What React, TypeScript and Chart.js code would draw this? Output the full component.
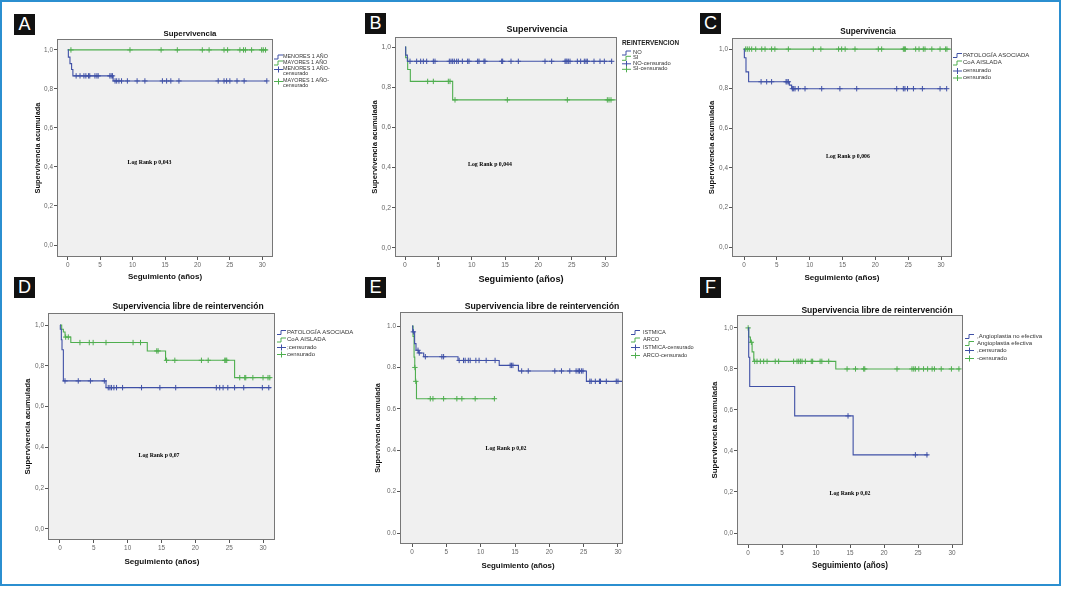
import React, { useEffect, useRef } from "react";
import { Chart, registerables } from "chart.js";
Chart.register(...registerables);

const BLUE = "#3f50a6";
const GREEN = "#4fae4f";
const SANS = '"Liberation Sans", Arial, sans-serif';
const SERIF = '"Liberation Serif", "Times New Roman", serif';

// shared axes
const xTicks = [0, 5, 10, 15, 20, 25, 30];
const xTickLabels = ["0", "5", "10", "15", "20", "25", "30"];
const yTicks = [0, 0.2, 0.4, 0.6, 0.8, 1.0];
const yTickLabelsComma = ["0,0", "0,2", "0,4", "0,6", "0,8", "1,0"];
const yTickLabelsDot = ["0.0", "0.2", "0.4", "0.6", "0.8", "1.0"];

// ---- Panel A: Supervivencia (edad) ----
const aMenoresT = [0, 0.1, 0.35, 0.6, 0.8, 7.0, 30.7];
const aMenoresS = [1, 0.963, 0.93, 0.9, 0.867, 0.841, 0.841];
const aMenoresCens = [1.3, 1.9, 2.5, 2.8, 3.2, 3.4, 4.2, 4.5, 4.7, 6.5, 6.7, 6.9, 7.3, 7.55, 7.9, 8.3, 9.2, 10.7, 11.9, 14.6, 15.25, 15.9, 17.15, 23.2, 24.1, 24.5, 25.0, 26.1, 27.2, 30.7];
const aMayoresT = [0, 30.8];
const aMayoresS = [1, 1];
const aMayoresCens = [0.5, 9.6, 14.4, 16.9, 20.75, 21.8, 24.1, 24.65, 26.55, 27.1, 27.4, 28.35, 29.9, 30.15, 30.5];

// ---- Panel B: Supervivencia (reintervención) ----
const bNoT = [0, 0.1, 0.35, 31.0];
const bNoS = [1, 0.96, 0.929, 0.929];
const bNoCens = [0.75, 1.75, 2.35, 2.75, 3.25, 4.25, 4.5, 6.65, 6.9, 7.15, 7.4, 7.75, 8.0, 8.6, 9.4, 9.6, 10.9, 11.1, 11.85, 12.0, 14.5, 14.65, 15.9, 17.0, 21.0, 22.0, 24.0, 24.15, 24.3, 24.5, 24.75, 25.85, 26.35, 26.9, 27.15, 27.35, 28.35, 29.25, 29.9, 31.0];
const bSiT = [0, 0.1, 0.4, 0.8, 7.15, 31.6];
const bSiS = [1, 0.947, 0.888, 0.829, 0.737, 0.737];
const bSiCens = [3.4, 4.25, 6.5, 6.75, 7.5, 15.35, 24.35, 30.35, 30.6, 30.9];

// ---- Panel C: Supervivencia (patología asociada) ----
const cPatT = [0, 0.05, 0.3, 0.7, 6.9, 7.25, 30.9];
const cPatS = [1, 0.956, 0.885, 0.835, 0.818, 0.8, 0.8];
const cPatCens = [2.6, 3.45, 4.2, 6.4, 6.55, 6.75, 7.36, 7.56, 7.77, 8.27, 9.29, 11.83, 14.6, 17.16, 23.25, 24.26, 24.5, 24.9, 25.8, 27.16, 29.85, 30.86];
const cAisT = [0, 31.5];
const cAisS = [1, 1];
const cAisCens = [0.25, 0.5, 0.8, 1.17, 1.78, 2.7, 3.2, 4.2, 4.7, 6.75, 10.55, 11.7, 14.4, 14.87, 15.4, 16.9, 20.45, 20.96, 24.26, 24.42, 24.57, 26.14, 26.65, 27.3, 27.56, 28.6, 29.85, 30.7, 30.9];

// ---- Panel D: Supervivencia libre de reintervención (patología asociada) ----
const dPatT = [0, 0.05, 0.2, 0.3, 0.5, 6.8, 31.2];
const dPatS = [1, 0.979, 0.928, 0.879, 0.726, 0.693, 0.693];
const dPatCens = [0.74, 2.7, 4.5, 6.55, 7.13, 7.38, 7.62, 7.97, 8.36, 9.25, 12.05, 14.76, 17.1, 23.1, 23.6, 24.1, 24.8, 25.8, 27.15, 29.9, 30.85];
const dAisT = [0, 0.25, 0.5, 0.75, 1.6, 12.9, 15.6, 25.8, 31.2];
const dAisS = [1, 0.979, 0.966, 0.941, 0.914, 0.873, 0.827, 0.742, 0.742];
const dAisCens = [0.84, 1.23, 2.95, 4.33, 4.9, 6.8, 10.8, 11.9, 14.3, 14.5, 15.75, 16.97, 20.9, 21.9, 24.35, 24.5, 24.64, 26.56, 27.3, 27.45, 28.5, 30.0, 30.74, 31.0];

// ---- Panel E: Supervivencia libre de reintervención (localización) ----
const eIstT = [0, 0.1, 0.38, 0.58, 0.97, 1.7, 6.7, 12.7, 15.5, 25.4, 31.0];
const eIstS = [1, 0.972, 0.915, 0.883, 0.87, 0.852, 0.834, 0.81, 0.783, 0.733, 0.733];
const eIstCens = [0.2, 0.87, 1.06, 1.94, 4.35, 4.6, 6.87, 7.5, 7.74, 8.2, 8.47, 9.3, 9.77, 10.8, 12.1, 14.3, 14.5, 14.7, 15.97, 16.93, 20.8, 21.77, 22.98, 23.9, 24.2, 24.4, 24.67, 24.9, 25.9, 26.1, 26.7, 27.3, 27.45, 28.3, 29.75, 30.0, 30.9];
const eArcoT = [0, 0.15, 0.3, 0.4, 0.5, 0.65, 12.0];
const eArcoS = [1, 0.95, 0.85, 0.8, 0.733, 0.649, 0.649];
const eArcoCens = [0.42, 0.55, 2.66, 3.05, 4.6, 6.53, 7.26, 9.2, 12.0];

// ---- Panel F: Supervivencia libre de reintervención (angioplastia) ----
const fNoEfT = [0, 0.1, 0.25, 6.86, 15.45, 26.5];
const fNoEfS = [1, 0.857, 0.714, 0.571, 0.381, 0.381];
const fNoEfCens = [14.7, 24.6, 26.3];
const fEfT = [0, 0.1, 0.35, 0.6, 0.85, 12.9, 31.2];
const fEfS = [1, 0.956, 0.93, 0.883, 0.837, 0.8, 0.8];
const fEfCens = [0.02, 0.49, 0.98, 1.32, 1.81, 2.3, 2.8, 4.0, 4.5, 6.7, 7.2, 7.45, 7.7, 7.94, 8.43, 9.3, 9.5, 10.6, 10.85, 11.86, 14.56, 15.8, 17.0, 17.16, 21.9, 24.1, 24.36, 24.6, 25.1, 25.8, 26.4, 27.06, 27.4, 28.4, 29.9, 31.0];

type Series = { t: number[]; s: number[]; c: number[]; color: string };
type LegendRow = { kind: "curve" | "cens"; color: string; lines: string[]; ys: number[] };
type Panel = {
  frame: [number, number, number, number];
  xRange: [number, number];
  yRange: [number, number];
  title: string; titleX: number; titleY: number; titleSize: number;
  yTitleX: number; yTitleSize: number;
  xTitleX: number; xTitleY: number; xTitleSize: number;
  tickSize: number;
  yLabels: string[];
  series: Series[];
  legendIconX: number; legendTextX: number; legendSize: number;
  legendTitle?: { text: string; y: number; size: number };
  legend: LegendRow[];
  logRank: { text: string; x: number; y: number };
};

const panels: Panel[] = [
  {
    frame: [57, 39, 216, 218], xRange: [-1.65, 31.65], yRange: [-0.0615, 1.056],
    title: "Supervivencia", titleX: 190, titleY: 34, titleSize: 7.8,
    yTitleX: 38, yTitleSize: 7.4, xTitleX: 165, xTitleY: 277, xTitleSize: 8, tickSize: 6.4,
    yLabels: yTickLabelsComma,
    series: [
      { t: aMenoresT, s: aMenoresS, c: aMenoresCens, color: BLUE },
      { t: aMayoresT, s: aMayoresS, c: aMayoresCens, color: GREEN },
    ],
    legendIconX: 274, legendTextX: 283, legendSize: 5.4,
    legend: [
      { kind: "curve", color: BLUE, lines: ["MENORES 1 AÑO"], ys: [56.5] },
      { kind: "curve", color: GREEN, lines: ["MAYORES 1 AÑO"], ys: [62.5] },
      { kind: "cens", color: BLUE, lines: ["MENORES 1 AÑO-", "censurado"], ys: [69, 74] },
      { kind: "cens", color: GREEN, lines: ["MAYORES 1 AÑO-", "censurado"], ys: [81, 86] },
    ],
    logRank: { text: "Log Rank p 0,043", x: 149.5, y: 163 },
  },
  {
    frame: [395, 37, 222, 220], xRange: [-1.5, 31.8], yRange: [-0.045, 1.05],
    title: "Supervivencia", titleX: 537, titleY: 30, titleSize: 9,
    yTitleX: 375, yTitleSize: 7.6, xTitleX: 521, xTitleY: 279, xTitleSize: 9.2, tickSize: 6.8,
    yLabels: yTickLabelsComma,
    series: [
      { t: bNoT, s: bNoS, c: bNoCens, color: BLUE },
      { t: bSiT, s: bSiS, c: bSiCens, color: GREEN },
    ],
    legendIconX: 622, legendTextX: 633, legendSize: 5.8,
    legendTitle: { text: "REINTERVENCION", y: 43, size: 6.4 },
    legend: [
      { kind: "curve", color: BLUE, lines: ["NO"], ys: [52.5] },
      { kind: "curve", color: GREEN, lines: ["SI"], ys: [57.8] },
      { kind: "cens", color: BLUE, lines: ["NO-censurado"], ys: [63.3] },
      { kind: "cens", color: GREEN, lines: ["SI-censurado"], ys: [68.8] },
    ],
    logRank: { text: "Log Rank p 0,044", x: 490, y: 165 },
  },
  {
    frame: [732, 38, 220, 219], xRange: [-1.83, 31.67], yRange: [-0.05, 1.056],
    title: "Supervivencia", titleX: 868, titleY: 32, titleSize: 8.2,
    yTitleX: 712, yTitleSize: 7.6, xTitleX: 842, xTitleY: 278, xTitleSize: 8.1, tickSize: 6.4,
    yLabels: yTickLabelsComma,
    series: [
      { t: cPatT, s: cPatS, c: cPatCens, color: BLUE },
      { t: cAisT, s: cAisS, c: cAisCens, color: GREEN },
    ],
    legendIconX: 953, legendTextX: 963, legendSize: 6,
    legend: [
      { kind: "curve", color: BLUE, lines: ["PATOLOGÍA ASOCIADA"], ys: [55] },
      { kind: "curve", color: GREEN, lines: ["CoA AISLADA"], ys: [62.5] },
      { kind: "cens", color: BLUE, lines: ["censurado"], ys: [70.5] },
      { kind: "cens", color: GREEN, lines: ["censurado"], ys: [77.5] },
    ],
    logRank: { text: "Log Rank p 0,006", x: 848, y: 157 },
  },
  {
    frame: [48, 313, 227, 227], xRange: [-1.77, 31.77], yRange: [-0.054, 1.059],
    title: "Supervivencia libre de reintervención", titleX: 188, titleY: 307, titleSize: 8.5,
    yTitleX: 28, yTitleSize: 7.8, xTitleX: 162, xTitleY: 562, xTitleSize: 8.1, tickSize: 6.4,
    yLabels: yTickLabelsComma,
    series: [
      { t: dPatT, s: dPatS, c: dPatCens, color: BLUE },
      { t: dAisT, s: dAisS, c: dAisCens, color: GREEN },
    ],
    legendIconX: 277, legendTextX: 287, legendSize: 6,
    legend: [
      { kind: "curve", color: BLUE, lines: ["PATOLOGÍA ASOCIADA"], ys: [332] },
      { kind: "curve", color: GREEN, lines: ["CoA AISLADA"], ys: [339.5] },
      { kind: "cens", color: BLUE, lines: [";censurado"], ys: [347] },
      { kind: "cens", color: GREEN, lines: ["censurado"], ys: [354] },
    ],
    logRank: { text: "Log Rank p 0,07", x: 159, y: 455.7 },
  },
  {
    frame: [400, 312, 223, 232], xRange: [-1.75, 30.73], yRange: [-0.053, 1.068],
    title: "Supervivencia libre de reintervención", titleX: 542, titleY: 307, titleSize: 8.7,
    yTitleX: 378, yTitleSize: 7.3, xTitleX: 518, xTitleY: 566, xTitleSize: 7.9, tickSize: 6.4,
    yLabels: yTickLabelsDot,
    series: [
      { t: eIstT, s: eIstS, c: eIstCens, color: BLUE },
      { t: eArcoT, s: eArcoS, c: eArcoCens, color: GREEN },
    ],
    legendIconX: 631, legendTextX: 643, legendSize: 5.6,
    legend: [
      { kind: "curve", color: BLUE, lines: ["ISTMICA"], ys: [332] },
      { kind: "curve", color: GREEN, lines: ["ARCO"], ys: [339.5] },
      { kind: "cens", color: BLUE, lines: ["ISTMICA-censurado"], ys: [347] },
      { kind: "cens", color: GREEN, lines: ["ARCO-censurado"], ys: [355] },
    ],
    logRank: { text: "Log Rank p 0,02", x: 506, y: 449 },
  },
  {
    frame: [737, 315, 226, 230], xRange: [-1.62, 31.6], yRange: [-0.0585, 1.063],
    title: "Supervivencia libre de reintervención", titleX: 877, titleY: 311, titleSize: 8.5,
    yTitleX: 715, yTitleSize: 7.9, xTitleX: 850, xTitleY: 566, xTitleSize: 8.2, tickSize: 6.4,
    yLabels: yTickLabelsComma,
    series: [
      { t: fNoEfT, s: fNoEfS, c: fNoEfCens, color: BLUE },
      { t: fEfT, s: fEfS, c: fEfCens, color: GREEN },
    ],
    legendIconX: 965, legendTextX: 977, legendSize: 6,
    legend: [
      { kind: "curve", color: BLUE, lines: [",Angioplastia no efectiva"], ys: [336] },
      { kind: "curve", color: GREEN, lines: ["Angioplastia efectiva"], ys: [343] },
      { kind: "cens", color: BLUE, lines: [",censurado"], ys: [350] },
      { kind: "cens", color: GREEN, lines: ["-censurado"], ys: [358] },
    ],
    logRank: { text: "Log Rank p 0,02", x: 850, y: 494 },
  },
];

const letters = [
  { ch: "A", x: 14, y: 14 },
  { ch: "B", x: 365, y: 13 },
  { ch: "C", x: 700, y: 13 },
  { ch: "D", x: 14, y: 277 },
  { ch: "E", x: 365, y: 277 },
  { ch: "F", x: 700, y: 277 },
];

const PL = 56, PT = 40, PR = 110, PB = 36;

function curvePoints(t: number[], s: number[]) {
  return t.map((x, i) => ({ x, y: s[i] }));
}
function censPoints(t: number[], s: number[], c: number[]) {
  return c.map((x) => {
    let y = s[0];
    for (let i = 0; i < t.length; i++) if (t[i] <= x) y = s[i];
    return { x, y };
  });
}

function KMPanel({ p }: { p: Panel }) {
  const ref = useRef<HTMLCanvasElement | null>(null);
  const [fx, fy, fw, fh] = p.frame;
  const left = fx - PL, top = fy - PT;
  const width = fw + PL + PR, height = fh + PT + PB;

  useEffect(() => {
    if (!ref.current) return;
    const datasets: any[] = [];
    p.series.forEach((sr) => {
      datasets.push({
        data: curvePoints(sr.t, sr.s),
        stepped: true,
        borderColor: sr.color,
        borderWidth: 1.1,
        pointRadius: 0,
        fill: false,
      });
      datasets.push({
        data: censPoints(sr.t, sr.s, sr.c),
        showLine: false,
        pointStyle: "cross",
        pointRadius: 2.7,
        pointBorderWidth: 1,
        borderColor: sr.color,
        pointBorderColor: sr.color,
      });
    });

    const X = (v: number) => v - left;
    const Y = (v: number) => v - top;

    const deco = {
      id: "deco",
      beforeDraw(chart: any) {
        const { ctx, chartArea: a } = chart;
        ctx.save();
        ctx.fillStyle = "#f0f0f0";
        ctx.fillRect(a.left, a.top, a.right - a.left, a.bottom - a.top);
        ctx.restore();
      },
      afterDraw(chart: any) {
        const { ctx, chartArea: a } = chart;
        ctx.save();
        ctx.strokeStyle = "#777";
        ctx.lineWidth = 1;
        ctx.strokeRect(a.left + 0.5, a.top + 0.5, a.right - a.left - 1, a.bottom - a.top - 1);

        ctx.fillStyle = "#111";
        ctx.textAlign = "center";
        ctx.textBaseline = "middle";
        ctx.font = `bold ${p.titleSize}px ${SANS}`;
        ctx.fillText(p.title, X(p.titleX), Y(p.titleY));

        ctx.font = `bold ${p.xTitleSize}px ${SANS}`;
        ctx.fillText("Seguimiento (años)", X(p.xTitleX), Y(p.xTitleY));

        ctx.save();
        ctx.translate(X(p.yTitleX), (a.top + a.bottom) / 2);
        ctx.rotate(-Math.PI / 2);
        ctx.font = `bold ${p.yTitleSize}px ${SANS}`;
        ctx.fillText("Supervivencia acumulada", 0, 0);
        ctx.restore();

        ctx.font = `bold 5.8px ${SERIF}`;
        ctx.fillStyle = "#000";
        ctx.fillText(p.logRank.text, X(p.logRank.x), Y(p.logRank.y));

        // legend
        ctx.textAlign = "left";
        if (p.legendTitle) {
          ctx.font = `bold ${p.legendTitle.size}px ${SANS}`;
          ctx.fillStyle = "#222";
          ctx.fillText(p.legendTitle.text, X(p.legendIconX), Y(p.legendTitle.y));
        }
        ctx.font = `${p.legendSize}px ${SANS}`;
        p.legend.forEach((row) => {
          const ix = X(p.legendIconX);
          const iy = Y(row.ys[0]);
          ctx.strokeStyle = row.color;
          ctx.lineWidth = 1;
          ctx.beginPath();
          if (row.kind === "curve") {
            ctx.moveTo(ix, iy + 2.5);
            ctx.lineTo(ix + 4, iy + 2.5);
            ctx.lineTo(ix + 4, iy - 1.5);
            ctx.lineTo(ix + 9, iy - 1.5);
          } else {
            ctx.moveTo(ix, iy + 0.5);
            ctx.lineTo(ix + 9, iy + 0.5);
            ctx.moveTo(ix + 4.5, iy - 2.5);
            ctx.lineTo(ix + 4.5, iy + 3.5);
          }
          ctx.stroke();
          ctx.fillStyle = "#333";
          row.lines.forEach((ln, k) => {
            ctx.fillText(ln, X(p.legendTextX), Y(row.ys[k]));
          });
        });
        ctx.restore();
      },
    };

    const chart = new Chart(ref.current, {
      type: "line",
      data: { datasets },
      options: {
        responsive: false,
        maintainAspectRatio: false,
        animation: false,
        events: [],
        layout: { padding: { left: 0, top: PT, right: PR, bottom: 0 }, autoPadding: false },
        plugins: {
          legend: { display: false },
          title: { display: false },
          tooltip: { enabled: false },
        },
        scales: {
          x: {
            type: "linear",
            min: p.xRange[0],
            max: p.xRange[1],
            afterBuildTicks: (s: any) => {
              s.ticks = xTicks.map((v) => ({ value: v }));
            },
            afterFit: (s: any) => {
              s.height = PB;
            },
            ticks: {
              autoSkip: false,
              maxRotation: 0,
              padding: 1,
              color: "#666",
              font: { size: p.tickSize, family: SANS },
              callback: (_v: any, i: number) => xTickLabels[i],
            },
            grid: { drawOnChartArea: false, drawTicks: true, tickLength: 3, tickColor: "#555", color: "#555" },
            border: { display: false },
          },
          y: {
            type: "linear",
            min: p.yRange[0],
            max: p.yRange[1],
            afterBuildTicks: (s: any) => {
              s.ticks = yTicks.map((v) => ({ value: v }));
            },
            afterFit: (s: any) => {
              s.width = PL;
            },
            ticks: {
              autoSkip: false,
              padding: 1,
              color: "#666",
              font: { size: p.tickSize, family: SANS },
              callback: (_v: any, i: number) => p.yLabels[i],
            },
            grid: { drawOnChartArea: false, drawTicks: true, tickLength: 3, tickColor: "#555", color: "#555" },
            border: { display: false },
          },
        },
      } as any,
      plugins: [deco],
    });
    return () => chart.destroy();
  }, []);

  return (
    <canvas
      ref={ref}
      width={width}
      height={height}
      style={{ position: "absolute", left, top, width, height }}
    />
  );
}

export default function App() {
  return (
    <div style={{ position: "fixed", left: 0, top: 0, width: 1065, height: 594, background: "#fff", overflow: "hidden" }}>
      <div
        style={{
          position: "absolute", left: 0, top: 0, width: 1061, height: 586,
          border: "2px solid #2b8fd0", boxSizing: "border-box",
        }}
      />
      {letters.map((l) => (
        <div
          key={l.ch}
          style={{
            position: "absolute", left: l.x, top: l.y, width: 21, height: 21,
            background: "#111", color: "#fff", fontFamily: SANS, fontSize: 18,
            lineHeight: "21px", textAlign: "center",
          }}
        >
          {l.ch}
        </div>
      ))}
      {panels.map((p, i) => (
        <KMPanel key={i} p={p} />
      ))}
    </div>
  );
}
